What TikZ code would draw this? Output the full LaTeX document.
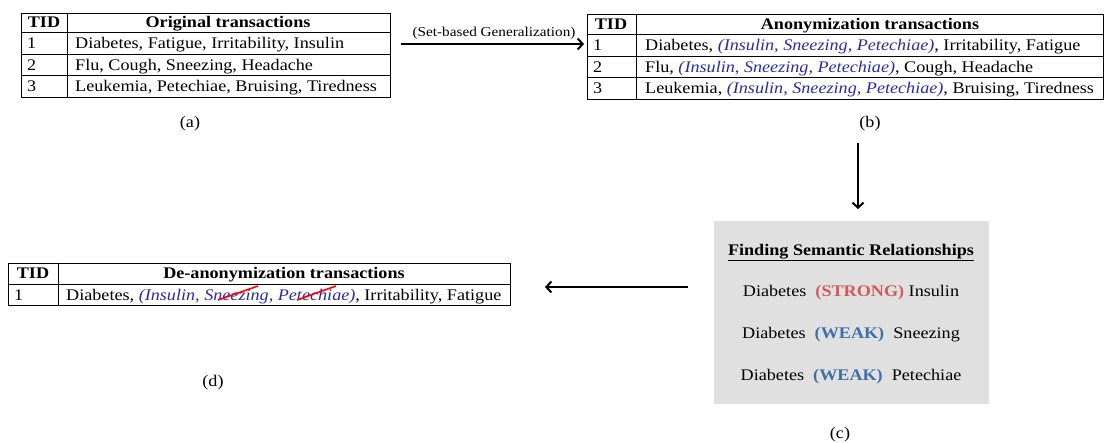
\documentclass[tikz,border=0pt]{standalone}
\usepackage{fontspec}
\setmainfont{Liberation Serif}[FakeStretch=1.12]
\usetikzlibrary{arrows.meta}
\definecolor{anonblue}{HTML}{2B2BA0}
\definecolor{strongred}{HTML}{D05A5A}
\definecolor{weakblue}{HTML}{3D6FA8}
\definecolor{boxgray}{HTML}{E0E0E0}
\begin{document}
\begin{tikzpicture}[x=1pt,y=-1pt,
    cell/.style={inner sep=0pt,anchor=base west,font=\fontsize{16.2}{18}\selectfont},
    head/.style={inner sep=0pt,anchor=base,font=\fontsize{16.2}{18}\selectfont\bfseries},
    sub/.style={inner sep=0pt,anchor=base,font=\fontsize{16.2}{18}\selectfont},
    frame/.style={draw,thick,inner sep=0pt,anchor=north west},
    flow/.style={line width=2pt,-{Straight Barb[length=5pt,width=11pt]}}]
    \useasboundingbox (0,0) rectangle (1110,443);
    \newcommand{\anon}{\textcolor{anonblue}{\itshape (Insulin, Sneezing, Petechiae)}}
    %% table (a)
    \node[frame,minimum width=369,minimum height=84] (tabA) at (21,13) {};
    \foreach \y in {32,54,75} \draw (21,\y) -- (390,\y);
    \draw (67,13) -- (67,97);
    \node[head] (tidA) at (44,28) {TID};
    \node[head] (headA) at (228,28) {Original transactions};
    \node[cell] (a1) at (75,49) {Diabetes, Fatigue, Irritability, Insulin};
    \node[cell] (a2) at (75,70.5) {Flu, Cough, Sneezing, Headache};
    \node[cell] (a3) at (75,92) {Leukemia, Petechiae, Bruising, Tiredness};
    \foreach \n/\y in {1/49,2/70.5,3/92} \node[cell] (na\n) at (27,\y) {\n};
    \node[sub] (labA) at (190,128) {(a)};
    %% table (b)
    \node[frame,minimum width=516,minimum height=85] (tabB) at (587,14) {};
    \foreach \y in {34,56,77} \draw (587,\y) -- (1103,\y);
    \draw (636,14) -- (636,99);
    \node[head] (tidB) at (611,29.5) {TID};
    \node[head] (headB) at (870,29.5) {Anonymization transactions};
    \node[cell] (b1) at (645,51) {Diabetes, \anon, Irritability, Fatigue};
    \node[cell] (b2) at (645,72.5) {Flu, \anon, Cough, Headache};
    \node[cell] (b3) at (645,94) {Leukemia, \anon, Bruising, Tiredness};
    \foreach \n/\y in {1/51,2/72.5,3/94} \node[cell] (nb\n) at (593,\y) {\n};
    \node[sub] (labB) at (870,128) {(b)};
    %% generalization arrow
    \coordinate (genL) at (401,44);
    \coordinate (genR) at (584,44);
    \draw[flow] (genL) -- (genR);
    \node[sub,font=\fontsize{13.6}{15}\selectfont] (genlab) at (494,36.5) {(Set-based Generalization)};
    %% semantic box (c)
    \node[fill=boxgray,inner sep=0pt,anchor=north west,minimum width=275,minimum height=183] (boxC) at (714,221) {};
    \node[head] (headC) at (851,255.5) {\underline{Finding Semantic Relationships}};
    \node[sub] (c1) at (851,297) {Diabetes\ \ \textcolor{strongred}{\bfseries(STRONG)} Insulin};
    \node[sub] (c2) at (851,338) {Diabetes\ \ \textcolor{weakblue}{\bfseries(WEAK)}\ \ Sneezing};
    \node[sub] (c3) at (851,380) {Diabetes\ \ \textcolor{weakblue}{\bfseries(WEAK)}\ \ Petechiae};
    \node[sub] (labC) at (840,438) {(c)};
    \coordinate (downT) at (858,143);
    \coordinate (downB) at (858,209);
    \draw[flow] (downT) -- (downB);
    %% table (d)
    \node[frame,minimum width=502,minimum height=42] (tabD) at (8,263) {};
    \draw (8,284) -- (510,284);
    \draw (58,263) -- (58,305);
    \node[head] (tidD) at (33,279) {TID};
    \node[head] (headD) at (284,279) {De-anonymization transactions};
    \node[cell] (d1) at (66,300.5) {Diabetes, \anon, Irritability, Fatigue};
    \node[cell] (nd1) at (14,300.5) {1};
    \node[sub] (labD) at (213,386) {(d)};
    %% struck out items
    \draw[red,line width=1.6pt] (218,300) -- (258,286);
    \draw[red,line width=1.6pt] (297,300) -- (336,286);
    \coordinate (backR) at (688,287);
    \coordinate (backL) at (545,287);
    \draw[flow] (backR) -- (backL);
\end{tikzpicture}
\end{document}
